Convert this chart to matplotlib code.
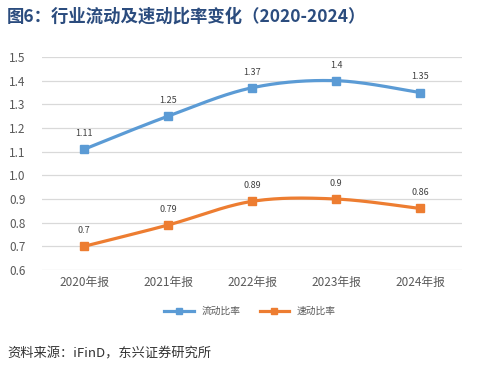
import numpy as np
import matplotlib
matplotlib.use("Agg")
import matplotlib.pyplot as plt

plt.rcParams['font.family'] = ['Noto Sans CJK SC', 'DejaVu Sans']

categories = ["2020年报", "2021年报", "2022年报", "2023年报", "2024年报"]
current_ratio = [1.11, 1.25, 1.37, 1.4, 1.35]
quick_ratio = [0.7, 0.79, 0.89, 0.9, 0.86]
yticks = [0.6, 0.7, 0.8, 0.9, 1.0, 1.1, 1.2, 1.3, 1.4, 1.5]


def smooth(xs, ys, n=40):
    """Excel 风格平滑线（Catmull-Rom 贝塞尔）"""
    xs = np.asarray(xs, float)
    ys = np.asarray(ys, float)
    px = np.concatenate([[xs[0]], xs, [xs[-1]]])
    py = np.concatenate([[ys[0]], ys, [ys[-1]]])
    ox, oy = [], []
    t = np.linspace(0, 1, n)
    for i in range(1, len(px) - 2):
        p0, p1, p2, p3 = (np.array([px[j], py[j]]) for j in (i - 1, i, i + 1, i + 2))
        c1 = p1 + (p2 - p0) / 6
        c2 = p2 - (p3 - p1) / 6
        b = ((1 - t) ** 3)[:, None] * p1 + (3 * (1 - t) ** 2 * t)[:, None] * c1 \
            + (3 * (1 - t) * t ** 2)[:, None] * c2 + (t ** 3)[:, None] * p2
        ox.extend(b[:, 0]); oy.extend(b[:, 1])
    return ox, oy


fig = plt.figure(figsize=(4.81, 3.69), dpi=100)
ax = fig.add_axes([0.0873, 0.2683, 0.8732, 0.5772])

x = np.arange(len(categories))
series = [("流动比率", current_ratio, "#5B9BD5"), ("速动比率", quick_ratio, "#ED7D31")]
handles = []
for name, vals, col in series:
    sx, sy = smooth(x, vals)
    ax.plot(sx, sy, color=col, lw=2.3, solid_capstyle="round", zorder=3)
    ax.plot(x, vals, ls="none", marker="s", ms=5.5, color=col, zorder=4)
    h, = ax.plot([], [], color=col, lw=2.3, marker="s", ms=4, label=name)
    handles.append(h)
    for xi, v in zip(x, vals):
        ax.annotate(f"{v:g}", (xi, v), xytext=(0, 8), textcoords="offset points",
                    ha="center", va="bottom", fontsize=6.5, color="#404040")

ax.set_xlim(-0.5, len(categories) - 0.5)
ax.set_ylim(0.6, 1.5)
ax.set_yticks(yticks)
ax.set_yticklabels([f"{v:.1f}" for v in yticks])
ax.set_xticks(x)
ax.set_xticklabels(categories)
ax.grid(axis="y", color="#D9D9D9", lw=0.9)
ax.set_axisbelow(True)
for s in ax.spines.values():
    s.set_visible(False)
ax.tick_params(length=0, labelsize=8.5, colors="#595959", pad=4)
ax.tick_params(axis="y", pad=12)

fig.legend(handles=handles, loc="center", bbox_to_anchor=(0.52, 0.157), ncol=2,
           frameon=False, fontsize=7, handlelength=3, columnspacing=2,
           labelcolor="#595959")

fig.text(0.015, 0.955, "图6：行业流动及速动比率变化（2020-2024）", fontsize=12.5,
         fontweight="bold", color="#2B4C7E", va="center")
fig.text(0.015, 0.04, "资料来源：iFinD，东兴证券研究所", fontsize=9.5, style="italic",
         color="#333333", va="center")

fig.savefig("out.png", dpi=100)
